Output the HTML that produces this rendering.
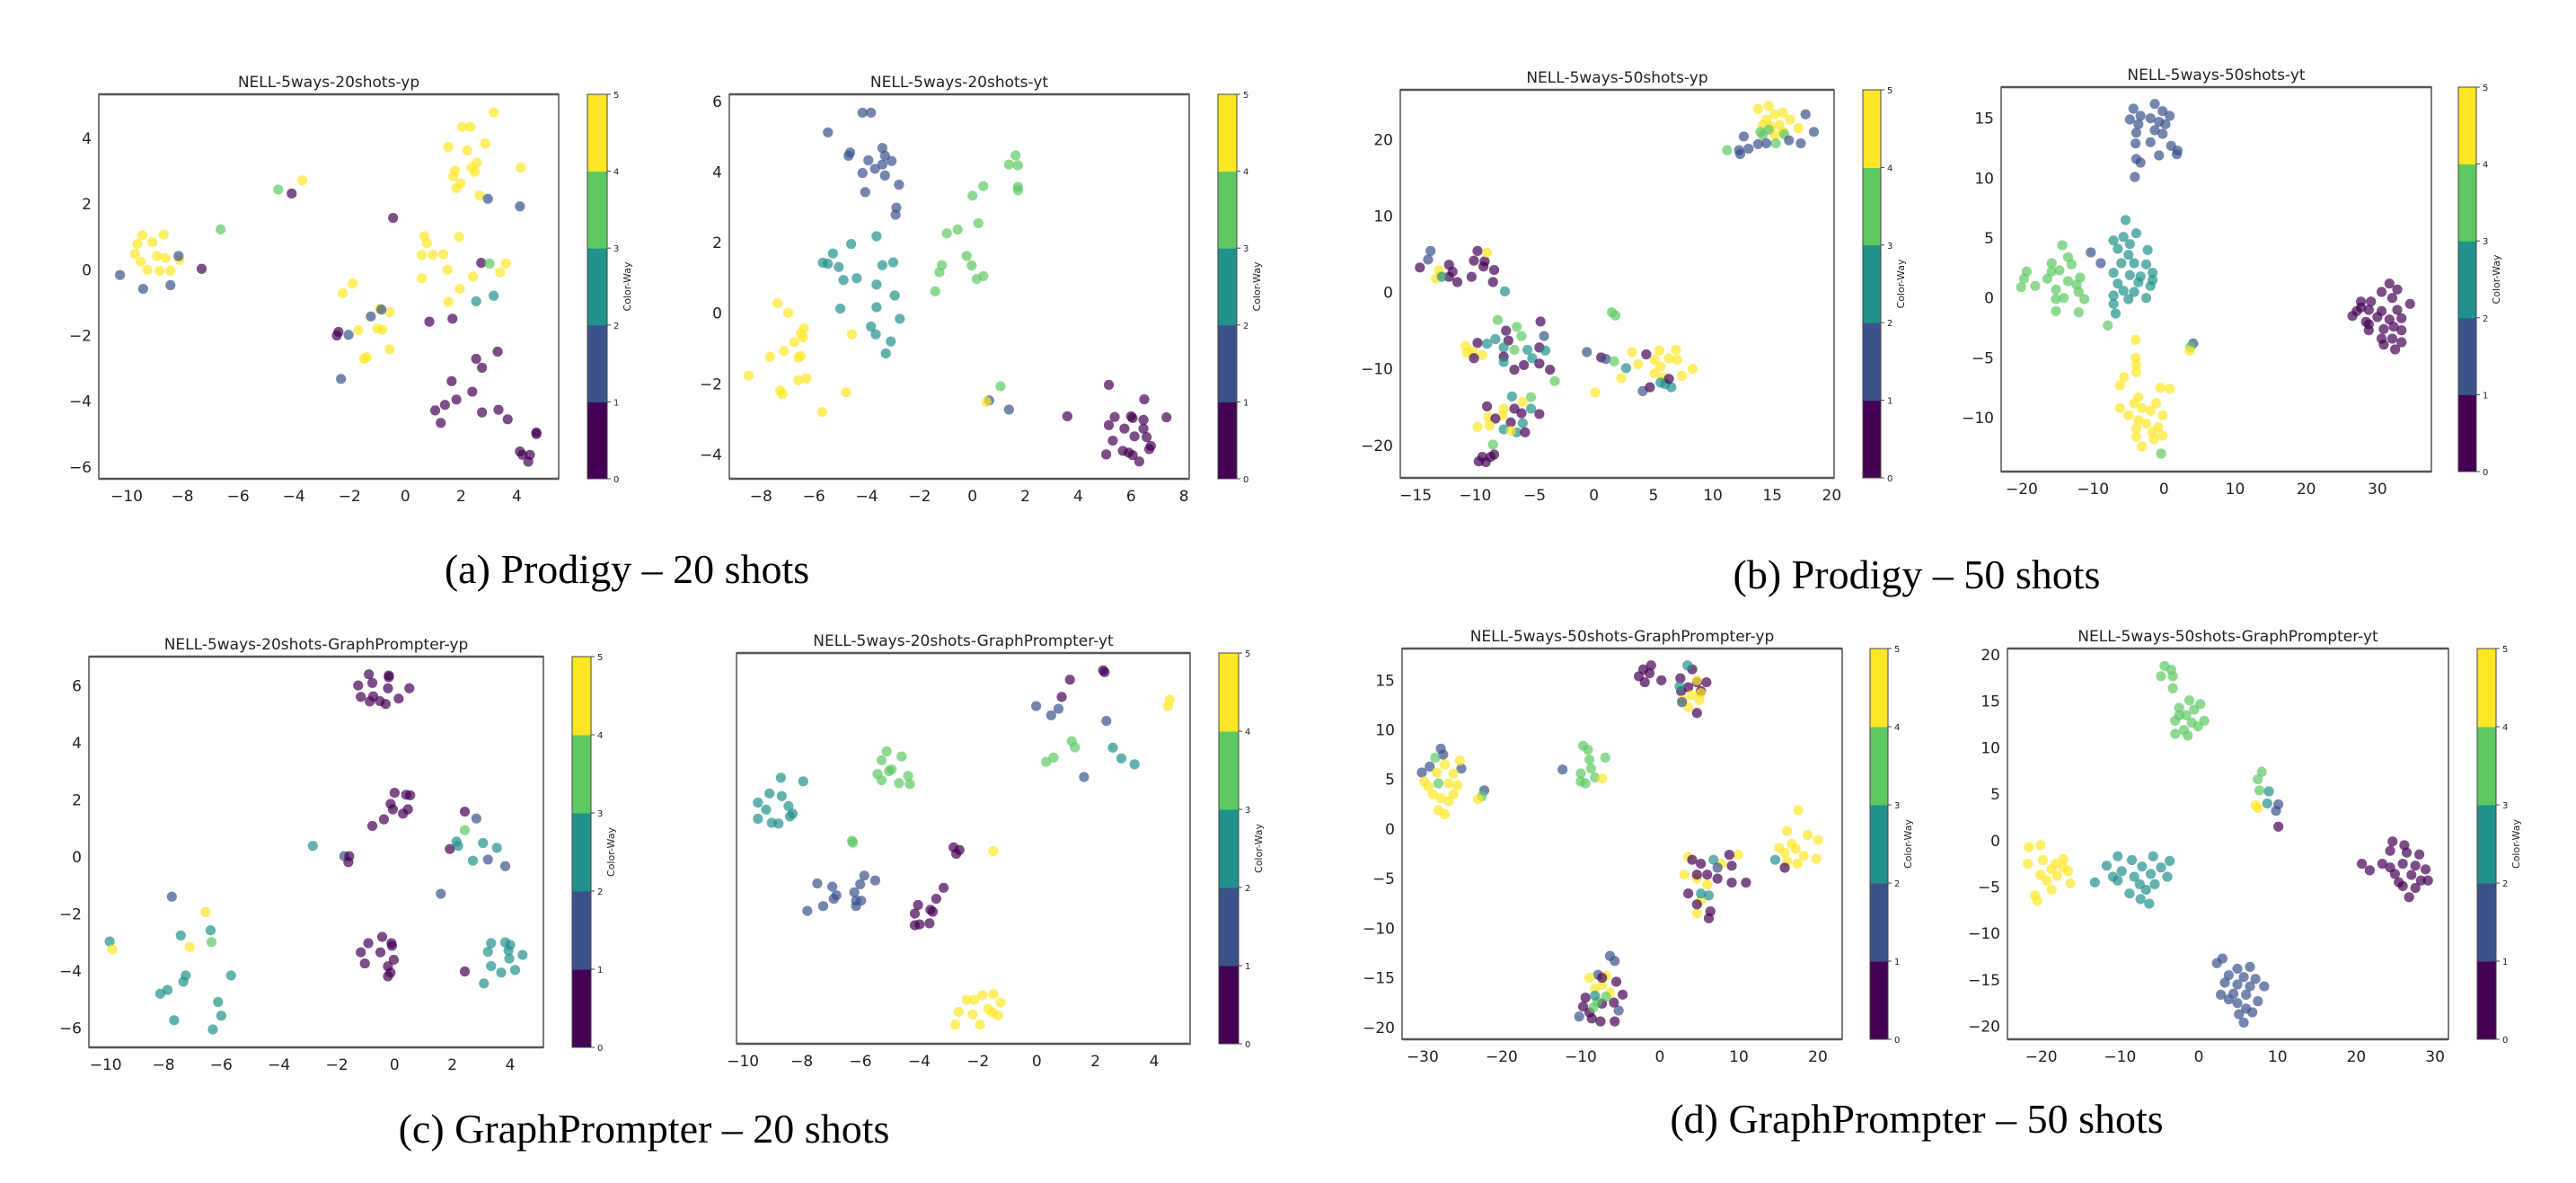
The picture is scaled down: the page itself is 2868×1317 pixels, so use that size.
<!DOCTYPE html>
<html><head><meta charset="utf-8"><style>
html,body{margin:0;padding:0;background:#fff;}
svg{display:block;}
text{font-family:"DejaVu Sans","Liberation Sans",sans-serif;}
.cap{font-family:"Liberation Serif",serif;font-size:46px;}
</style></head><body>
<svg id="fig" width="2868" height="1317" viewBox="0 0 2868 1317" xmlns="http://www.w3.org/2000/svg">
<rect width="2868" height="1317" fill="#fff"/>
<text class="cap" x="698" y="649" text-anchor="middle">(a) Prodigy – 20 shots</text>
<text class="cap" x="2134" y="655" text-anchor="middle">(b) Prodigy – 50 shots</text>
<text class="cap" x="717" y="1272" text-anchor="middle">(c) GraphPrompter – 20 shots</text>
<text class="cap" x="2134" y="1261" text-anchor="middle">(d) GraphPrompter – 50 shots</text>
</svg>
<script>
const classColors=["#440154","#3b528b","#21918c","#5ec962","#fde725"];
const cbTicks=[0,1,2,3,4,5];
const aLeftPts=[[-9.44,1.05,4],[-8.67,1.07,4],[-9.62,0.79,4],[-9.08,0.84,4],[-9.7,0.49,4],[-8.91,0.42,4],[-8.61,0.36,4],[-9.5,0.25,4],[-9.26,0,4],[-8.82,-0.03,4],[-8.43,-0.03,4],[-8.11,0.3,4],
[-10.24,-0.16,1],[-9.41,-0.58,1],[-8.43,-0.47,1],[-8.14,0.42,1],[-7.31,0.03,0],[-6.63,1.23,3],[-4.56,2.44,3],[-3.7,2.72,4],[-4.08,2.32,0],[-0.44,1.58,0],
[3.17,4.79,4],[2.04,4.35,4],[2.34,4.35,4],[1.54,3.74,4],[2.22,3.63,4],[2.87,3.84,4],[2.57,3.26,4],[1.78,3.02,4],[2.37,3.11,4],[2.49,2.98,4],[1.72,2.84,4],[1.98,2.63,4],[1.83,2.49,4],[2.66,2.26,4],[4.14,3.11,4],
[2.96,2.16,1],[4.11,1.93,1],
[0.68,1.02,4],[0.77,0.81,4],[1.92,1,4],[0.59,0.45,4],[0.98,0.45,4],[1.36,0.47,4],[1.51,0,4],[3.61,0.19,4],[3.4,-0.08,4],[2.43,-0.21,4],[0.59,-0.26,4],[1.95,-0.58,4],[1.54,-0.98,4],
[2.72,0.21,0],[3.02,0.19,3],[2.54,-0.96,2],[3.17,-0.79,2],
[-1.89,-0.42,4],[-2.25,-0.71,4],[-0.92,-1.19,4],[-0.56,-1.29,4],[-1.69,-1.84,4],[-1,-1.79,4],[-0.83,-1.82,4],[-0.56,-2.42,4],[-1.48,-2.71,4],[-1.39,-2.66,4],
[-1.24,-1.42,1],[-0.86,-1.21,1],[-2.04,-1.98,1],[-2.31,-3.32,1],
[-2.4,-1.89,0],[-2.46,-2,0],[0.86,-1.58,0],[1.69,-1.49,0],
[3.31,-2.49,0],[2.54,-2.71,0],[2.75,-2.98,0],[1.66,-3.39,0],[2.4,-3.71,0],[1.83,-3.95,0],[1.42,-4.11,0],[1.07,-4.28,0],[2.75,-4.34,0],[3.34,-4.26,0],[3.67,-4.55,0],[1.27,-4.66,0],[4.7,-4.95,0],[4.7,-5,0],[4.11,-5.53,0],[4.2,-5.63,0],[4.47,-5.63,0],[4.41,-5.84,0]];
const aRightPts=[[-4.16,5.68,1],[-3.84,5.68,1],[-5.47,5.12,1],[-4.63,4.55,1],[-4.69,4.46,1],[-3.41,4.68,1],[-3.31,4.46,1],[-3.94,4.33,1],[-3.06,4.31,1],[-3.41,4.21,1],[-3.69,4.09,1],[-4.16,3.97,1],[-3.31,3.9,1],[-2.78,3.64,1],[-4.06,3.43,1],[-2.88,2.99,1],[-2.91,2.79,1],[1.38,-2.73,1],[0.63,-2.47,1],
[-3.63,2.18,2],[-4.59,1.96,2],[-5.28,1.69,2],[-5.66,1.43,2],[-5.47,1.4,2],[-5.06,1.31,2],[-3.41,1.36,2],[-3,1.44,2],[-4.38,0.99,2],[-4.88,0.94,2],[-3.63,0.81,2],[-2.94,0.5,2],[-3.63,0.17,2],[-5,0.13,2],[-2.75,-0.16,2],[-3.84,-0.38,2],[-3.66,-0.6,2],[-3.09,-0.8,2],[-3.28,-1.14,2],
[1.63,4.47,3],[1.38,4.21,3],[1.72,4.19,3],[0.41,3.6,3],[1.72,3.58,3],[1.72,3.48,3],[0,3.33,3],[0.22,2.55,3],[-0.56,2.37,3],[-0.97,2.26,3],[-0.22,1.62,3],[-1.16,1.36,3],[-1.25,1.16,3],[-0.03,1.35,3],[0.41,1.05,3],[0.16,0.97,3],[-1.41,0.62,3],[1.06,-2.07,3],
[-7.38,0.28,4],[-6.97,0.01,4],[-6.38,-0.43,4],[-6.5,-0.58,4],[-6.41,-0.68,4],[-6.75,-0.82,4],[-7.13,-1.07,4],[-6.5,-1.21,4],[-6.59,-1.26,4],[-7.66,-1.24,4],[-4.56,-0.6,4],[-8.47,-1.77,4],[-6.28,-1.85,4],[-6.59,-1.9,4],[-7.28,-2.19,4],[-7.19,-2.29,4],[-4.78,-2.24,4],[-5.69,-2.8,4],[0.53,-2.51,4],
[5.16,-2.03,0],[6.5,-2.44,0],[3.59,-2.92,0],[5.38,-2.94,0],[6,-2.92,0],[6.06,-2.97,0],[7.34,-2.95,0],[6.47,-3.02,0],[5.16,-3.17,0],[5.75,-3.27,0],[6.47,-3.27,0],[6.13,-3.49,0],[6.59,-3.51,0],[5.31,-3.61,0],[6.75,-3.76,0],[6.69,-3.85,0],[5.69,-3.9,0],[5.91,-3.95,0],[5.06,-4,0],[6.06,-4.02,0],[6.31,-4.2,0]];
const bLeftPts=[[14.7,24.4,4],[13.8,24,4],[15.2,23.3,4],[15.9,23.5,4],[14.5,22.6,4],[16.5,22.6,4],[15.6,21.9,4],[14.2,21.9,4],[17.2,21.5,4],[15.2,20.6,4],[15.9,21,4],[14.9,21.7,4],
[14,21,3],[14.7,21.3,3],[16,20.7,3],[15.3,19.5,3],[11.2,18.6,3],[14.2,20.6,3],
[17.8,23.3,1],[18.5,21,1],[12.6,20.4,1],[12.2,18.6,1],[12.3,18.1,1],[13,18.8,1],[13.8,19.4,1],[14.5,19.5,1],[16.4,19.9,1],[17.4,19.5,1],
[-13.75,5.43,1],[-13.96,4.3,1],[-14.65,3.26,0],[-12.2,3.62,0],[-11.9,2.71,0],[-11.5,1.36,0],[-9.8,5.43,0],[-9.2,4.07,0],[-9.3,3.39,0],[-8.4,2.94,0],[-8.5,1.36,0],[-10.3,2.04,0],[-10.1,4.16,0],[-12.2,2.04,0],
[-9,5.2,4],[-13.05,2.94,4],[-13.3,1.81,4],[-12.9,2.26,4],[-12.8,2.04,2],[-7.5,0.14,2],
[-8.1,-3.6,3],[-4.5,-3.8,0],[-7.4,-5,0],[-6.5,-4.5,3],[-4.2,-5.7,1],[-9.8,-6.6,0],[-9,-6.7,2],[-10.8,-7,4],[-10.7,-7.9,4],[-8.3,-6.1,2],[-7.2,-6.3,0],[-6.1,-5.7,3],[-7.6,-7.2,2],[-6.7,-7.5,3],[-4.6,-7.2,0],[-4.1,-7.6,2],[-5.6,-7.5,2],[-7.6,-8.4,0],[-9.4,-8.2,4],[-5.2,-8.6,2],[-5.9,-9.5,0],[-6.7,-10.1,0],[-4.6,-9.3,0],[-3.7,-10.1,0],[-7.6,-9.1,2],[-10.2,-7.7,4],[-10.1,-8.6,0],[-3.3,-11.6,3],
[-0.6,-7.8,1],[0.6,-8.5,0],[1,-8.7,1],[1.7,-9,3],[2.7,-9.9,2],[3.2,-7.8,4],[4.4,-8.1,0],[3.7,-9.4,4],[5.5,-7.6,4],[6.9,-7.5,4],[6.3,-8.6,4],[7,-8.8,4],[5.1,-8.8,4],[5.6,-9.7,4],[8.3,-10,4],[7.4,-10.9,4],[5.8,-11.1,4],[6,-12,2],[6.5,-12.4,2],[6.3,-11.3,0],[4.1,-12.9,1],[4.7,-12.4,0],[2.3,-11.2,4],[0.1,-13.1,4],[1.8,-3,3],[1.5,-2.6,3],[5.6,-11.8,2],[5.1,-10.6,4],
[-6.9,-13.6,2],[-5.3,-13.7,3],[-6,-14.3,4],[-9,-14.9,0],[-7.6,-15.2,4],[-6.7,-15.2,0],[-5.3,-15.2,2],[-6.1,-15.8,0],[-7.7,-16.1,4],[-4.6,-15.9,0],[-8.9,-16.3,4],[-8.3,-16.5,0],[-8.8,-17.4,4],[-7,-17,0],[-6,-17.1,2],[-7.6,-17.9,2],[-9.8,-17.6,4],[-6.5,-18.3,2],[-5.8,-18.3,0],[-7,-18.1,4],[-8.5,-19.9,3],[-9.4,-21.5,0],[-8.7,-21.5,0],[-9.7,-22.1,0],[-9.1,-22.2,0],[-8.4,-21.2,0]];
const bRightPts=[[-4.3,15.8,1],[-1.3,16.2,1],[-0.2,15.6,1],[0.8,15.2,1],[-3.3,15.2,1],[-4.8,14.9,1],[-1.9,15,1],[-0.7,14.7,1],[0.2,14.5,1],[-3.6,14.5,1],[-1.3,14,1],[-0.2,13.7,1],[-3.9,13.8,1],[-1.9,13,1],[-4,12.9,1],[1,12.7,1],[1.9,12.3,1],[1.8,12,1],[-0.7,11.9,1],[-3.9,11.6,1],[-3.3,11.3,1],[-4.1,10.1,1],
[-5.4,6.5,2],[-7.1,4.8,2],[-3.9,5.4,2],[-5.7,5.1,2],[-4.8,4.5,2],[-6.5,4.1,2],[-2.3,4,2],[-5,3.6,2],[-6,2.9,2],[-4.2,2.9,2],[-2.5,2.8,2],[-7.1,2.1,2],[-4.8,1.9,2],[-3.3,1.8,2],[-1.6,2.1,2],[-3.6,1.3,2],[-6.5,1.2,2],[-1.9,1,2],[-5.7,0.6,2],[-4.2,0.5,2],[-7.1,0.2,2],[-2.5,0,2],[-5,-0.1,2],[-7.1,-0.5,2],[-6.8,-1.3,2],[-1.6,1.5,2],
[-14.3,4.4,3],[-13.5,3.4,3],[-15.8,2.9,3],[-19.3,2.2,3],[-19.7,1.6,3],[-20.1,0.9,3],[-18.1,1,3],[-14.7,2.3,3],[-13,2.8,3],[-11.8,1.7,3],[-16.4,1.6,3],[-13.5,1.4,3],[-15.2,0.7,3],[-12,0.5,3],[-11.2,-0.1,3],[-15.2,-0.1,3],[-14.1,0,3],[-15.2,-1.1,3],[-12,-1.2,3],[-7.9,-2.3,3],[-15.8,2.2,3],[-12.3,1.1,3],
[-10.3,3.8,1],[-8.9,2.9,1],
[-4,-3.5,4],[-4,-5,4],[-3.9,-5.6,4],[-3.9,-6.2,4],[-5.6,-6.6,4],[-6.2,-7.3,4],[-0.5,-7.5,4],[0.8,-7.6,4],[-3.6,-8.3,4],[-1.1,-8.8,4],[-6.2,-9.2,4],[-4.2,-8.8,4],[-3.1,-9.2,4],[-1.9,-9.4,4],[-0.2,-9.8,4],[-5,-9.8,4],[-3.6,-10.2,4],[-2.5,-10.5,4],[-0.8,-10.8,4],[-3.9,-10.9,4],[-1.6,-11.2,4],[-0.2,-11.5,4],[-3.9,-11.6,4],[-1.4,-11.8,4],[-3.1,-12.4,4],[-0.4,-13,3],
[4.1,-3.8,1],[3.7,-4.1,3],[3.6,-4.4,4],
[31.7,1.2,0],[30.6,0.5,0],[27.7,-0.3,0],[29.1,-0.3,0],[32.1,0,0],[34.6,-0.5,0],[27.1,-1.1,0],[28.8,-1,0],[30.6,-1.1,0],[32.8,-1,0],[30,-1.6,0],[31.7,-1.8,0],[26.5,-1.5,0],[33.4,-1.7,0],[28.4,-2,0],[32.3,-2.4,0],[30.9,-2.6,0],[28.8,-2.7,0],[33.4,-2.7,0],[28.8,-2.2,0],[30.6,-3.4,0],[32.1,-3.4,0],[33.4,-3.7,0],[32.5,-4.3,0],[30.9,-3.9,0],[27.7,-0.8,0],[32.8,0.7,0]];
const cLeftPts=[[-0.89,6.4,0],[-0.2,6.36,0],[-0.2,6.3,0],[-0.77,6.1,0],[-1.26,6.01,0],[-0.23,5.91,0],[0.51,5.91,0],[-1.17,5.61,0],[-0.74,5.63,0],[0.14,5.55,0],[-0.86,5.45,0],[-0.51,5.46,0],[-0.31,5.36,0],
[0,2.25,0],[0.4,2.18,0],[0.54,2.16,0],[-0.14,1.86,0],[-0.06,1.67,0],[0.46,1.67,0],[0.29,1.52,0],[-0.37,1.32,0],[-0.77,1.09,0],
[2.43,1.59,0],[2.83,1.35,1],[2.43,0.94,3],[2.14,0.54,2],[2.2,0.39,2],[1.91,0.28,0],[3.06,0.49,2],[3.54,0.32,2],[2.71,-0.13,2],[3.23,-0.09,1],[3.83,-0.32,1],
[-2.83,0.39,2],[-1.74,0.03,1],[-1.57,0.03,0],[-1.6,-0.18,0],[1.6,-1.29,1],
[-0.43,-2.8,0],[-0.91,-3.02,0],[-0.11,-3.02,0],[-0.09,-3.11,0],[-1.17,-3.34,0],[-0.49,-3.34,0],[-0.03,-3.6,0],[-1.03,-3.73,0],[-0.23,-3.83,0],[-0.14,-4.05,0],[-0.23,-4.18,0],[2.43,-4.01,0],
[3.34,-3.02,2],[3.83,-2.99,2],[4,-3.08,2],[3.23,-3.32,2],[3.94,-3.28,2],[4.43,-3.43,2],[3.97,-3.56,2],[3.34,-3.82,2],[3.69,-4.05,2],[4.17,-3.96,2],[3.09,-4.43,2],
[-9.86,-2.96,2],[-9.77,-3.24,4],[-7.71,-1.39,1],[-6.54,-1.93,4],[-6.37,-2.57,2],[-6.34,-2.98,3],[-7.4,-2.75,2],[-7.09,-3.15,4],[-7.23,-4.15,2],[-7.31,-4.37,2],[-7.86,-4.66,2],[-8.11,-4.79,2],[-5.66,-4.15,2],[-6.11,-5.08,2],[-6,-5.56,2],[-7.63,-5.72,2],[-6.29,-6.04,2]];
const cRightPts=[[2.26,6.86,0],[2.31,6.79,0],[1.13,6.51,0],[0.85,5.87,0],
[-0.02,5.53,1],[0.74,5.43,1],[0.49,5.19,1],[2.37,4.98,1],[1.61,2.9,1],
[4.53,5.77,4],[4.47,5.53,4],[-1.48,0.15,4],
[1.19,4.23,3],[1.3,4,3],[0.57,3.62,3],[0.32,3.46,3],
[2.59,3.99,2],[2.88,3.59,2],[3.33,3.37,2],
[-5.11,3.85,3],[-4.6,3.66,3],[-5.28,3.52,3],[-4.94,3.18,3],[-5.03,3.12,3],[-5.42,3.01,3],[-4.38,2.94,3],[-5.28,2.78,3],[-4.69,2.67,3],[-4.32,2.64,3],[-6.29,0.53,3],[-6.26,0.46,3],
[-8.71,2.87,2],[-7.95,2.74,2],[-9.1,2.29,2],[-9.49,1.95,2],[-8.68,2.19,2],[-9.21,1.69,2],[-8.45,1.82,2],[-8.31,1.54,2],[-9.02,1.2,2],[-8.79,1.17,2],[-9.49,1.35,2],[-8.4,1.44,2],
[-2.83,0.29,0],[-2.63,0.19,0],[-2.74,0.05,0],
[-7.47,-1.05,1],[-6.96,-1.17,1],[-5.87,-0.76,1],[-5.5,-0.94,1],[-6.01,-1.08,1],[-6.21,-1.38,1],[-6.91,-1.62,1],[-6.15,-1.69,1],[-5.98,-1.69,1],[-7.27,-1.89,1],[-7.81,-2.07,1],[-6.15,-1.89,1],[-6.82,-1.49,1],
[-3.17,-1.21,0],[-3.42,-1.62,0],[-4.04,-1.85,0],[-3.62,-2.03,0],[-4.15,-2.17,0],[-3.54,-2.1,0],[-3.65,-2.53,0],[-4.15,-2.6,0],[-3.99,-2.57,0],
[-1.85,-5.2,4],[-1.48,-5.16,4],[-2.38,-5.37,4],[-2.13,-5.37,4],[-1.23,-5.47,4],[-2.66,-5.82,4],[-2.18,-5.91,4],[-1.65,-5.71,4],[-1.51,-5.84,4],[-1.32,-5.95,4],[-2.77,-6.29,4],[-1.93,-6.29,4]];
const dLeftPts=[[-2.1,16.1,0],[-1.3,15.7,0],[-2.65,15.4,0],[-1.1,16.5,0],[0.2,15,0],[-1.9,14.8,0],[2.6,15.2,0],[4.1,16.1,0],[4.7,14.8,0],[5.9,14.8,0],[3.6,14.3,0],[5.2,13.9,0],[2.7,13.9,0],[4.7,11.7,0],
[3.5,16.5,2],[2.5,14.4,2],[4.7,15,4],[4,13.5,4],[2.9,13,4],[5,13,4],[3.6,12.3,4],[5.2,13.7,4],[2.8,12.8,1],
[-27.7,8.1,1],[-27.4,7.5,1],[-30.1,5.7,1],[-29.1,6.3,1],[-25.1,6.1,1],[-22.2,3.9,1],[-28.4,7.2,3],[-28,4.6,3],[-22.5,3.3,3],
[-29.8,4.8,4],[-29.3,4.3,4],[-28.2,5.7,4],[-27.2,6.5,4],[-26.1,5.6,4],[-28.7,3.5,4],[-27.7,3.1,4],[-26.1,3.5,4],[-25.6,4.4,4],[-26.7,2.8,4],[-28,1.9,4],[-27.2,1.5,4],[-23,3,4],[-26.7,4.6,4],[-25.3,6.9,4],
[-9.7,8.4,3],[-9.1,8,3],[-6.9,7.2,3],[-8.9,7,3],[-8.7,6.1,3],[-10,5.6,3],[-8.2,5.2,3],[-10,4.8,3],[-9.4,4.6,3],[-7.3,5.1,4],[-12.3,6,1],
[17.5,1.9,4],[16.1,-0.2,4],[20,-1.1,4],[18.7,-0.6,4],[17.2,-2,4],[15.8,-2.4,4],[18.2,-2.7,4],[19.8,-3,4],[16.1,-3.3,4],[17.4,-3.5,4],[15.1,-1.9,4],[16.7,-1.5,4],[14.6,-3.1,2],[15.8,-3.9,0],
[3.6,-2.8,4],[9.9,-2.6,4],[7.8,-3.5,4],[3.1,-4.6,4],[4.7,-5,4],[6,-5.6,4],[4.7,-8.5,4],[5.2,-7.2,4],
[4.1,-3.1,0],[5.2,-3.5,0],[8.8,-2.6,0],[9.1,-3.7,0],[6,-4.6,0],[7.3,-5,0],[9.1,-5.4,0],[10.9,-5.4,0],[3.6,-6.5,0],[4.7,-7.6,0],[6.4,-8.3,0],[6.2,-9,0],[4.7,-4.6,0],[5.2,-6.5,2],[6.2,-6.7,2],[6.8,-3.1,2],[7.3,-3.9,1],
[-6.3,-12.8,1],[-5.7,-13.3,1],[-7.8,-14.7,1],[-10.2,-18.9,1],[-5.2,-18.3,1],
[-8.9,-15,4],[-7.3,-15.7,4],[-8.2,-16.1,4],[-6.3,-16.5,4],[-6.8,-14.8,4],
[-7.3,-15,0],[-5.5,-15.4,0],[-4.7,-16.7,0],[-9.4,-17,0],[-9.7,-17.9,0],[-7.3,-17.6,0],[-5.8,-17.5,0],[-8.6,-19.1,0],[-7.5,-19.4,0],[-5.7,-19.4,0],[-8.9,-18.5,0],
[-7.9,-17.4,3],[-8.4,-18,3],[-6.8,-16.9,3],[-8.2,-16.8,2]];
const dRightPts=[[-4.35,18.8,3],[-3.5,18.4,3],[-4.8,17.7,3],[-3.3,17.7,3],[-3.3,16.4,3],[-1.2,15.1,3],[0.2,14.7,3],[-2.5,14.3,3],[-0.6,14.1,3],[-1.6,13.5,3],[0.7,12.9,3],[-3,12.9,3],[-0.9,12.7,3],[-0.1,12.3,3],[-1.9,11.9,3],[-3,11.5,3],[-1.4,11.3,3],[-2.5,13.5,3],
[8,7.4,3],[7.5,6.6,3],[7.7,5.4,3],[8.9,5.3,2],[8.7,4,2],[7.2,3.8,4],[7.5,3.5,4],[10.1,3.9,1],[9.8,3.2,1],[10.1,1.5,0],
[-21.6,-0.7,4],[-20.1,-0.5,4],[-21.7,-2.5,4],[-19.8,-2.1,4],[-18.2,-2.5,4],[-17.2,-2,4],[-18.7,-3.1,4],[-16.6,-3.3,4],[-18,-3.8,4],[-20.1,-3.7,4],[-16.3,-4.6,4],[-18.7,-5.3,4],[-20.8,-5.9,4],[-20.5,-6.5,4],[-19.3,-4.3,4],[-17.2,-2.9,4],
[-10.3,-1.7,2],[-11.7,-2.7,2],[-8.5,-2.1,2],[-5.8,-1.7,2],[-3.7,-2.2,2],[-7.2,-2.8,2],[-9.8,-3.3,2],[-4.8,-2.9,2],[-6.1,-3.6,2],[-10.9,-3.9,2],[-8.2,-3.9,2],[-4,-3.9,2],[-7.5,-4.7,2],[-5.6,-4.7,2],[-13.2,-4.5,2],[-8.8,-5.7,2],[-6.7,-5.3,2],[-7.4,-6.3,2],[-6.3,-6.8,2],[-10.3,-4.3,2],
[24.6,-0.1,0],[26.1,-0.5,0],[28,-1.5,0],[24.3,-1.1,0],[26.4,-1.3,0],[20.7,-2.5,0],[21.7,-3.2,0],[24.3,-2.9,0],[25.9,-2.5,0],[27.5,-2.7,0],[28.8,-3.1,0],[24.9,-3.6,0],[27,-3.7,0],[28.2,-4.3,0],[25.4,-4.5,0],[29.1,-4.3,0],[25.9,-4.9,0],[27.5,-5.1,0],[26.7,-6.1,0],[23.3,-2.5,0],
[2.3,-13.2,1],[3,-12.7,1],[4.9,-13.8,1],[6.5,-13.6,1],[3.8,-14.5,1],[5.7,-14.7,1],[7.2,-14.9,1],[3.3,-15.3,1],[4.9,-15.5,1],[6.5,-15.7,1],[8.3,-15.7,1],[4.4,-16.5,1],[6,-16.6,1],[2.8,-16.6,1],[7.5,-17.3,1],[4.9,-17.5,1],[6,-18.1,1],[6.8,-18.5,1],[5.1,-18.7,1],[5.7,-19.6,1],[3.8,-17.1,1]];

const aLeftXTicks=[-10,-8,-6,-4,-2,0,2,4], aLeftYTicks=[-6,-4,-2,0,2,4];
const aRightXTicks=[-8,-6,-4,-2,0,2,4,6,8], aRightYTicks=[-4,-2,0,2,4,6];
const bLeftXTicks=[-15,-10,-5,0,5,10,15,20], bLeftYTicks=[-20,-10,0,10,20];
const bRightXTicks=[-20,-10,0,10,20,30], bRightYTicks=[-10,-5,0,5,10,15];
const cLeftXTicks=[-10,-8,-6,-4,-2,0,2,4], cLeftYTicks=[-6,-4,-2,0,2,4,6];
const cRightXTicks=[-10,-8,-6,-4,-2,0,2,4], cRightYTicks=[];
const dLeftXTicks=[-30,-20,-10,0,10,20], dLeftYTicks=[-20,-15,-10,-5,0,5,10,15];
const dRightXTicks=[-20,-10,0,10,20,30], dRightYTicks=[-20,-15,-10,-5,0,5,10,15,20];

const panels=[
 {id:"a-left",title:"NELL-5ways-20shots-yp",x0:110,x1:622,y0:105,y1:533,xl:[-11,5.5],yl:[-6.36,5.34],cb:[654,676],pts:aLeftPts,xt:aLeftXTicks,yt:aLeftYTicks},
 {id:"a-right",title:"NELL-5ways-20shots-yt",x0:812,x1:1324,y0:105,y1:533,xl:[-9.2,8.2],yl:[-4.69,6.2],cb:[1356,1377],pts:aRightPts,xt:aRightXTicks,yt:aRightYTicks},
 {id:"b-left",title:"NELL-5ways-50shots-yp",x0:1559,x1:2042,y0:100,y1:532,xl:[-16.3,20.2],yl:[-24.25,26.5],cb:[2074,2094],pts:bLeftPts,xt:bLeftXTicks,yt:bLeftYTicks},
 {id:"b-right",title:"NELL-5ways-50shots-yt",x0:2228,x1:2707,y0:97,y1:525,xl:[-22.9,37.6],yl:[-14.5,17.6],cb:[2737,2757],pts:bRightPts,xt:bRightXTicks,yt:bRightYTicks},
 {id:"c-left",title:"NELL-5ways-20shots-GraphPrompter-yp",x0:99,x1:605,y0:731,y1:1166,xl:[-10.58,5.15],yl:[-6.67,7.02],cb:[637,658],pts:cLeftPts,xt:cLeftXTicks,yt:cLeftYTicks},
 {id:"c-right",title:"NELL-5ways-20shots-GraphPrompter-yt",x0:820,x1:1325,y0:727,y1:1162,xl:[-10.22,5.22],yl:[-7,7.5],cb:[1357,1379],pts:cRightPts,xt:cRightXTicks,yt:cRightYTicks},
 {id:"d-left",title:"NELL-5ways-50shots-GraphPrompter-yp",x0:1561,x1:2051,y0:722,y1:1157,xl:[-32.6,23.07],yl:[-21.2,18.2],cb:[2082,2102],pts:dLeftPts,xt:dLeftXTicks,yt:dLeftYTicks},
 {id:"d-right",title:"NELL-5ways-50shots-GraphPrompter-yt",x0:2235,x1:2726,y0:722,y1:1157,xl:[-24.3,31.7],yl:[-21.4,20.68],cb:[2758,2779],pts:dRightPts,xt:dRightXTicks,yt:dRightYTicks}
];
const NS="http://www.w3.org/2000/svg";
const svg=document.getElementById("fig");
function mk(tag,attrs,parent){const e=document.createElementNS(NS,tag);for(const k in attrs)e.setAttribute(k,attrs[k]);parent.appendChild(e);return e;}
panels.forEach(p=>{
 const g=mk("g",{},svg);
 
 
 const sx=v=>p.x0+(v-p.xl[0])/(p.xl[1]-p.xl[0])*(p.x1-p.x0);
 const sy=v=>p.y1-(v-p.yl[0])/(p.yl[1]-p.yl[0])*(p.y1-p.y0);
 const t=mk("text",{x:(p.x0+p.x1)/2,y:p.y0-8,"text-anchor":"middle","font-size":"17",fill:"#222"},g);
 t.textContent=p.title;
 
 
 p.pts.forEach(d=>{
  const c=mk("circle",{cx:sx(d[0]),cy:sy(d[1]),r:5.6,fill:classColors[d[2]],"fill-opacity":0.7},g);
  
  
 });
 const fr=mk("rect",{x:p.x0,y:p.y0,width:p.x1-p.x0,height:p.y1-p.y0,fill:"none",stroke:"#444","stroke-width":1.4},g);
 
 
 mk("line",{x1:p.x0,x2:p.x1,y1:p.y0,y2:p.y0,stroke:"#555","stroke-width":2.5},g);
 mk("line",{x1:p.x0,x2:p.x1,y1:p.y1,y2:p.y1,stroke:"#555","stroke-width":2.5},g);
 p.xt.forEach(v=>{
  const l=mk("text",{x:sx(v),y:p.y1+25,"text-anchor":"middle","font-size":"17",fill:"#222"},g);
  l.textContent=(v<0?"\u2212":"")+Math.abs(v);
  
  
 });
 p.yt.forEach(v=>{
  const l=mk("text",{x:p.x0-8,y:sy(v)+6,"text-anchor":"end","font-size":"17",fill:"#222"},g);
  l.textContent=(v<0?"\u2212":"")+Math.abs(v);
  
  
 });
 const cbx=p.cb[0],cbw=p.cb[1]-p.cb[0],h=p.y1-p.y0;
 const cy=v=>p.y1-v/5*h;
 for(let k=0;k<5;k++){
  const r=mk("rect",{x:cbx,y:cy(k+1),width:cbw,height:cy(k)-cy(k+1)+0.5,fill:classColors[k]},g);
  
  
 }
 mk("rect",{x:cbx,y:p.y0,width:cbw,height:h,fill:"none",stroke:"#444","stroke-width":1},g);
 cbTicks.forEach(v=>{
  mk("line",{x1:p.cb[1],x2:p.cb[1]+4,y1:cy(v),y2:cy(v),stroke:"#444","stroke-width":1},g);
  const l=mk("text",{x:p.cb[1]+7,y:cy(v)+4,"font-size":"10",fill:"#222"},g);
  l.textContent=v;
  
  
 });
 const lx=p.cb[1]+26,ly=(p.y0+p.y1)/2;
 const cl=mk("text",{x:lx,y:ly,"text-anchor":"middle","font-size":"11",fill:"#222",transform:`rotate(-90 ${lx} ${ly})`},g);
 cl.textContent="Color-Way";
 
 
});
</script>
</body></html>
